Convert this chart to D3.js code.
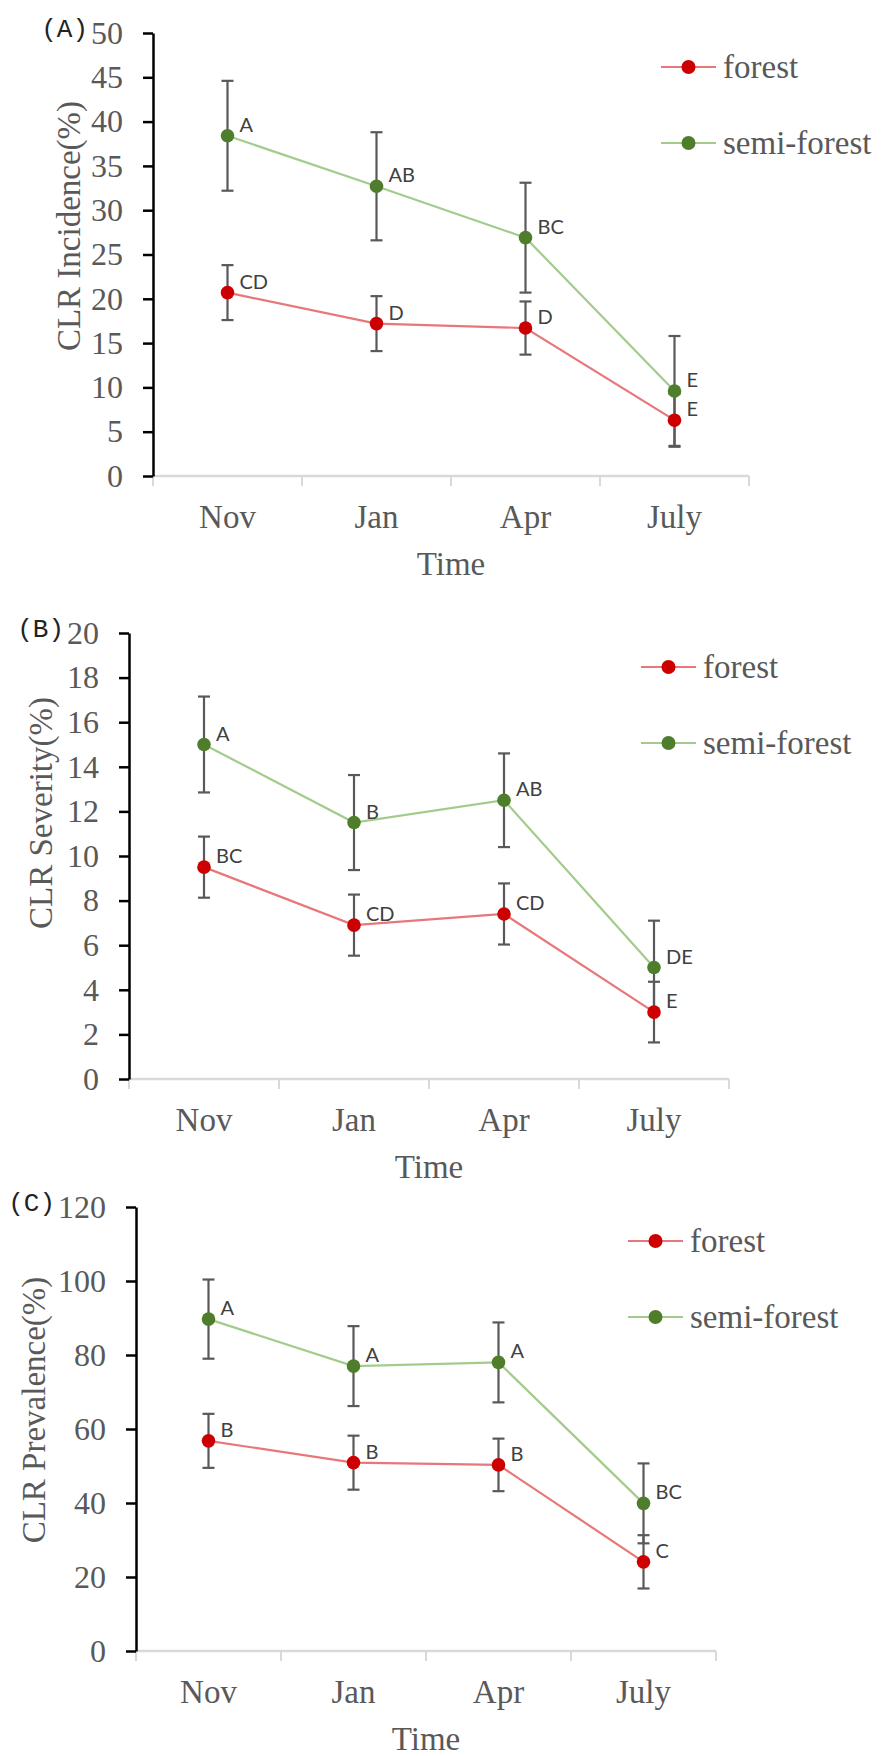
<!DOCTYPE html>
<html>
<head>
<meta charset="utf-8">
<script src="https://cdn.jsdelivr.net/npm/d3@7"></script>
<style>
  body { margin: 0; background: #fff; }
  svg { display: block; }
</style>
</head>
<body>
<div id="chart"></div>
<script>
const months = ["Nov", "Jan", "Apr", "July"];
const seriesNames = ["forest", "semi-forest"];

// (A) incidence
const incidenceTicks = [0, 5, 10, 15, 20, 25, 30, 35, 40, 45, 50];
const incidenceForest = [20.7, 17.2, 16.7, 6.3];
const incidenceForestErr = [3.1, 3.1, 3.0, 3.0];
const incidenceSemi = [38.4, 32.7, 26.9, 9.6];
const incidenceSemiErr = [6.2, 6.1, 6.2, 6.2];
const incidenceForestLetters = ["CD", "D", "D", "E"];
const incidenceSemiLetters = ["A", "AB", "BC", "E"];

// (B) severity
const severityTicks = [0, 2, 4, 6, 8, 10, 12, 14, 16, 18, 20];
const severityForest = [9.5, 6.9, 7.4, 3.0];
const severityForestErr = [1.37, 1.37, 1.37, 1.36];
const severitySemi = [15.0, 11.5, 12.5, 5.0];
const severitySemiErr = [2.15, 2.13, 2.1, 2.1];
const severityForestLetters = ["BC", "CD", "CD", "E"];
const severitySemiLetters = ["A", "B", "AB", "DE"];

// (C) prevalence
const prevalenceTicks = [0, 20, 40, 60, 80, 100, 120];
const prevalenceForest = [56.8, 50.9, 50.3, 24.1];
const prevalenceForestErr = [7.3, 7.3, 7.1, 7.2];
const prevalenceSemi = [89.7, 77.0, 78.0, 39.9];
const prevalenceSemiErr = [10.7, 10.8, 10.8, 10.8];
const prevalenceForestLetters = ["B", "B", "B", "C"];
const prevalenceSemiLetters = ["A", "A", "A", "BC"];

const width = 885, height = 1756;
const serif = "'Liberation Serif', 'Times New Roman', serif";
const textGray = "#595959";
const colors = {
    forest: { line: "#e8777a", dot: "#cc0000" },
    semi: { line: "#a3cc8c", dot: "#4e7d2c" }
};

const panels = [
    { tag: "(A)", title: "CLR Incidence(%)", ticks: incidenceTicks,
      forest: incidenceForest, forestErr: incidenceForestErr, forestLetters: incidenceForestLetters,
      semi: incidenceSemi, semiErr: incidenceSemiErr, semiLetters: incidenceSemiLetters,
      left: 153, right: 749, top: 33, bottom: 476, titleX: 80, titleY: 226 },
    { tag: "(B)", title: "CLR Severity(%)", ticks: severityTicks,
      forest: severityForest, forestErr: severityForestErr, forestLetters: severityForestLetters,
      semi: severitySemi, semiErr: severitySemiErr, semiLetters: severitySemiLetters,
      left: 129, right: 729, top: 633, bottom: 1079, titleX: 52, titleY: 813 },
    { tag: "(C)", title: "CLR Prevalence(%)", ticks: prevalenceTicks,
      forest: prevalenceForest, forestErr: prevalenceForestErr, forestLetters: prevalenceForestLetters,
      semi: prevalenceSemi, semiErr: prevalenceSemiErr, semiLetters: prevalenceSemiLetters,
      left: 136, right: 716, top: 1207, bottom: 1651, titleX: 45, titleY: 1410 }
];

const svg = d3.select("#chart").append("svg")
    .attr("width", width)
    .attr("height", height);

svg.append("rect").attr("width", width).attr("height", height).attr("fill", "#fff");

function drawPanel(p) {
    const g = svg.append("g");

    const x = d3.scaleBand()
        .domain(months)
        .range([p.left, p.right])
        .padding(0);
    const cx = m => x(m) + x.bandwidth() / 2;

    const y = d3.scaleLinear()
        .domain([0, d3.max(p.ticks)])
        .range([p.bottom, p.top]);

    // x axis: light grey line with category boundaries
    const bounds = months.map(m => x(m)).concat([p.right]);
    g.append("line")
        .attr("x1", p.left).attr("x2", p.right)
        .attr("y1", p.bottom).attr("y2", p.bottom)
        .attr("stroke", "#d9d9d9").attr("stroke-width", 2.5);
    g.selectAll(".xb").data(bounds).join("line")
        .attr("x1", d => d).attr("x2", d => d)
        .attr("y1", p.bottom).attr("y2", p.bottom + 10)
        .attr("stroke", "#d9d9d9").attr("stroke-width", 2);

    const xAxis = g.append("g")
        .attr("transform", `translate(0,${p.bottom})`)
        .call(d3.axisBottom(x).tickSize(0).tickPadding(29));
    xAxis.select(".domain").remove();
    xAxis.selectAll("text")
        .attr("font-family", serif).attr("font-size", 33).attr("fill", textGray);

    // y axis
    const yAxis = g.append("g")
        .attr("transform", `translate(${p.left},0)`)
        .call(d3.axisLeft(y).tickValues(p.ticks).tickSize(10).tickSizeOuter(0).tickPadding(20));
    yAxis.select(".domain").attr("stroke", "#000").attr("stroke-width", 2.5);
    yAxis.selectAll(".tick line").attr("stroke", "#000").attr("stroke-width", 2.5);
    yAxis.selectAll("text")
        .attr("font-family", serif).attr("font-size", 32).attr("fill", textGray);

    // panel tag left of the top tick label
    let maxW = 0;
    yAxis.selectAll("text").each(function () { maxW = Math.max(maxW, this.getComputedTextLength()); });
    g.append("text")
        .attr("x", p.left - 30 - maxW - 3)
        .attr("y", p.top + 4)
        .attr("text-anchor", "end")
        .attr("font-family", "'Liberation Mono', 'DejaVu Sans Mono', monospace")
        .attr("font-size", 26)
        .attr("fill", "#222")
        .text(p.tag);

    // axis titles
    g.append("text")
        .attr("transform", `translate(${p.titleX},${p.titleY}) rotate(-90)`)
        .attr("text-anchor", "middle")
        .attr("font-family", serif).attr("font-size", 33).attr("fill", textGray)
        .text(p.title);
    g.append("text")
        .attr("x", (p.left + p.right) / 2)
        .attr("y", p.bottom + 99)
        .attr("text-anchor", "middle")
        .attr("font-family", serif).attr("font-size", 33).attr("fill", textGray)
        .text("Time");

    const sets = [
        { vals: p.forest, err: p.forestErr, letters: p.forestLetters, c: colors.forest },
        { vals: p.semi, err: p.semiErr, letters: p.semiLetters, c: colors.semi }
    ];

    const line = d3.line().x((d, i) => cx(months[i])).y(d => y(d));
    sets.forEach(s => {
        g.append("path").datum(s.vals)
            .attr("d", line)
            .attr("fill", "none")
            .attr("stroke", s.c.line)
            .attr("stroke-width", 2.2);
    });

    // error bars
    sets.forEach(s => {
        const eb = g.append("g").attr("stroke", "#595959").attr("stroke-width", 2.2);
        s.vals.forEach((v, i) => {
            const xx = cx(months[i]);
            const y1 = y(v + s.err[i]), y0 = y(v - s.err[i]);
            eb.append("line").attr("x1", xx).attr("x2", xx).attr("y1", y1).attr("y2", y0);
            eb.append("line").attr("x1", xx - 6).attr("x2", xx + 6).attr("y1", y1).attr("y2", y1);
            eb.append("line").attr("x1", xx - 6).attr("x2", xx + 6).attr("y1", y0).attr("y2", y0);
        });
    });

    // markers and letters
    sets.forEach(s => {
        g.selectAll(null).data(s.vals).join("circle")
            .attr("cx", (d, i) => cx(months[i]))
            .attr("cy", d => y(d))
            .attr("r", 6.8)
            .attr("fill", s.c.dot);
        g.selectAll(null).data(s.vals).join("text")
            .attr("x", (d, i) => cx(months[i]) + 12)
            .attr("y", d => y(d) - 4)
            .attr("font-family", "Lato, 'Open Sans', sans-serif")
            .attr("font-size", 20)
            .attr("fill", "#404040")
            .text((d, i) => s.letters[i]);
    });

    // legend
    const lx = p.right - 88;
    seriesNames.forEach((name, i) => {
        const c = i === 0 ? colors.forest : colors.semi;
        const ly = p.top + 34 + i * 76;
        g.append("line")
            .attr("x1", lx).attr("x2", lx + 55)
            .attr("y1", ly).attr("y2", ly)
            .attr("stroke", c.line).attr("stroke-width", 2.2);
        g.append("circle")
            .attr("cx", lx + 27.5).attr("cy", ly).attr("r", 7)
            .attr("fill", c.dot);
        g.append("text")
            .attr("x", lx + 62).attr("y", ly + 11)
            .attr("font-family", serif).attr("font-size", 33).attr("fill", textGray)
            .text(name);
    });
}

panels.forEach(drawPanel);
</script>
</body>
</html>
